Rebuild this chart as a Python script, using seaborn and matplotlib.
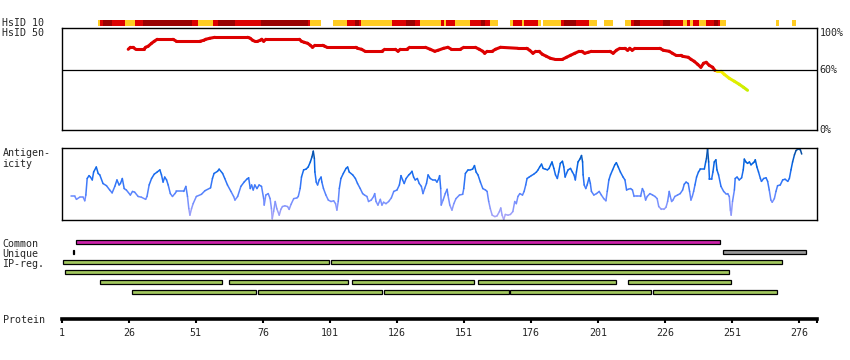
import numpy as np
import pandas as pd
import seaborn as sns
import matplotlib.pyplot as plt
from matplotlib.colors import LinearSegmentedColormap

# HsID 10 strip: residue ranges and identity class
strip_start = [14.5, 15.2, 16.4, 19.6, 24.5, 28.2, 31.2, 49.5, 51.7, 57.4, 59.2, 65.6, 75.3, 92.9, 93.5,
               102.2, 107.4, 110.3, 111.8, 112.5, 124.1, 129.3, 132.7, 134.6, 142.4, 143.5, 144.3, 147.6,
               153.2, 157.3, 158.8, 160.7, 168.1, 169.1, 172.6, 173.4, 178.6, 180.5, 187.2, 188.3, 192.8,
               197.6, 203.2, 211.1, 213.3, 214.4, 216.7, 225.3, 227.9, 232.7, 234.2, 235.3, 236.5, 238.7,
               241.3, 244.3, 245.8, 246.5, 267.4, 273.4]
strip_end = [15.2, 16.4, 19.6, 24.5, 28.2, 31.2, 49.5, 51.7, 57.4, 59.2, 65.6, 75.3, 92.9, 93.5, 97.6,
             107.4, 110.3, 111.8, 112.5, 124.1, 129.3, 132.7, 134.6, 142.4, 143.5, 144.3, 147.6, 153.2,
             157.3, 158.8, 160.7, 163.6, 169.1, 172.6, 173.4, 178.6, 179.6, 187.2, 188.3, 192.8, 197.6,
             200.6, 206.6, 213.3, 214.4, 216.7, 225.3, 227.9, 232.7, 234.2, 235.3, 236.5, 238.7, 241.3,
             244.3, 245.8, 246.5, 248.8, 268.5, 274.9]
strip_level = ['low', 'mid', 'high', 'mid', 'low', 'mid', 'high', 'mid', 'low', 'mid', 'high', 'mid', 'high', 'mid', 'low',
               'low', 'mid', 'high', 'mid', 'low', 'mid', 'high', 'mid', 'low', 'mid', 'low', 'mid', 'low',
               'mid', 'high', 'mid', 'low', 'low', 'mid', 'low', 'mid', 'low', 'low', 'mid', 'high', 'mid',
               'low', 'low', 'low', 'mid', 'high', 'mid', 'high', 'mid', 'low', 'mid', 'low', 'mid', 'low',
               'mid', 'high', 'mid', 'low', 'low', 'low']

# HsID 50 identity (%)
hsid_res = [25.8, 26.6, 27.6, 28.6, 31.6, 32.3, 33.2, 34.5, 35.5, 36.6, 41.3, 42.5, 43.8, 52.5, 54.0, 54.7,
            56.2, 58.1, 62.8, 70.3, 71.3, 72.2, 73.0, 74.0, 75.0, 75.6, 76.3, 77.1, 89.6, 90.4, 91.4, 92.7,
            93.7, 94.5, 95.4, 98.3, 99.1, 99.9, 110.7, 111.3, 112.8, 114.1, 120.4, 121.4, 125.4, 126.4,
            127.2, 129.7, 130.7, 136.6, 138.4, 140.1, 141.3, 143.4, 145.0, 146.3, 149.6, 150.9, 155.2,
            156.7, 158.0, 158.7, 159.6, 161.5, 162.7, 164.6, 171.1, 174.3, 175.5, 176.7, 177.7, 179.0,
            180.2, 181.7, 183.2, 184.8, 187.7, 189.2, 190.7, 192.3, 193.9, 194.8, 196.0, 197.3, 198.5,
            205.4, 206.6, 207.8, 209.1, 211.0, 212.0, 212.8, 213.7, 214.7, 224.0, 225.3, 227.5, 228.7,
            230.0, 231.9, 232.5, 234.6, 235.6, 236.8, 238.1, 239.3, 240.3, 241.3, 242.4, 243.7, 244.5,
            245.5, 246.8, 248.0, 249.9, 251.8, 253.6, 255.2, 256.7]
hsid_pct = [81, 83, 83, 81, 81, 83, 84, 87, 89, 91, 91, 91, 89, 89, 90, 91,
            92, 93, 93, 93, 92, 90, 89, 89, 90, 91, 89, 91, 91, 89, 88, 87,
            85, 83, 85, 85, 84, 83, 83, 82, 81, 79, 79, 81, 81, 79,
            81, 81, 83, 83, 81, 79, 80, 82, 83, 81, 81, 83, 83,
            81, 79, 77, 79, 79, 81, 83, 82, 82, 80, 77, 79, 79,
            76, 74, 72, 71, 71, 73, 75, 77, 79, 79, 77, 78, 79,
            79, 77, 80, 82, 82, 80, 82, 80, 82, 82, 80, 79, 77,
            75, 75, 74, 73, 71, 69, 66, 63, 67, 68, 65, 63, 60,
            59, 59, 56, 52, 49, 46, 43, 40]

# Antigenicity (relative score, 0 = bottom of panel, 100 = top)
antig_res = [4.5, 5.9, 6.5, 7.7, 9.0, 9.6, 10.0, 10.5, 11.2, 11.7, 12.4, 12.9, 13.9, 14.6, 15.2, 16.4,
             17.7, 18.9, 19.8, 20.8, 21.6, 22.4, 22.9, 23.6, 24.3, 25.1, 26.6, 27.4, 28.2, 29.5, 30.7,
             32.3, 32.8, 33.6, 34.5, 35.5, 36.6, 37.6, 38.2, 38.8, 39.4, 40.1, 40.7, 41.5, 42.3, 43.2,
             43.8, 46.5, 47.3, 47.9, 48.4, 48.8, 49.4, 50.0, 51.2, 53.1, 54.4, 56.5,
             57.2, 57.8, 59.1, 59.7, 61.0, 61.8, 62.8, 64.1, 65.1, 65.6, 66.6, 67.8, 69.0, 70.0, 70.7,
             71.3, 71.8, 72.4, 73.0, 73.8, 74.6, 75.5, 76.3, 76.5, 77.1, 78.0, 78.7, 79.2, 79.5, 80.0,
             80.6, 81.2, 82.1, 82.7, 83.3, 84.2, 85.2, 85.8, 86.5, 87.5, 88.7, 89.2, 89.9, 90.4, 91.2,
             92.1, 92.9, 93.7, 94.3, 94.8, 95.2, 95.4, 95.9, 96.4, 97.0, 97.7, 98.0, 98.6, 99.5, 100.4,
             101.4, 102.4, 103.1, 103.6, 104.1, 104.5, 105.1, 106.0, 107.0, 107.6, 108.2, 109.5, 110.5,
             111.3, 112.3,
             113.2, 113.9, 114.8, 115.4, 116.4, 117.3, 117.7, 118.2, 118.9, 119.8, 120.4, 121.0, 121.9,
             122.9, 123.9, 124.8, 126.0, 126.9, 127.5, 128.1, 128.7, 129.4, 130.4, 131.0, 131.6, 132.2,
             132.8, 133.6, 134.3, 135.1, 135.7, 136.3, 137.0, 137.6, 138.4, 139.3, 140.3, 140.9, 141.6,
             141.9, 142.3, 142.5, 143.2, 144.0, 144.7, 145.0, 145.7, 146.5, 147.2, 148.0, 149.3, 150.5,
             150.9, 151.5, 152.5, 153.4, 154.2, 154.9, 155.5, 156.2, 157.1, 158.0, 159.0, 159.6, 160.2,
             160.8, 161.5, 162.5, 163.3, 164.2, 164.7, 165.2, 165.8, 166.4, 167.4, 168.3, 169.2, 169.9,
             170.5, 171.1, 171.8, 172.8, 173.4, 174.0, 174.5, 175.3, 176.1, 177.0, 178.0, 178.6, 179.2,
             179.9, 180.5, 181.3, 182.1, 182.7, 183.3, 183.8, 184.5, 185.1, 185.8, 186.3, 186.9, 187.7,
             188.2, 188.7, 189.2, 189.8, 190.7, 191.4, 192.0, 192.5, 192.9, 193.5, 194.2, 194.8, 195.2,
             195.4, 195.8, 196.4, 196.9, 197.6, 198.1, 198.5, 199.4, 200.4, 201.4, 202.2, 203.1, 203.9,
             204.4, 205.0, 205.6, 206.4, 207.2, 207.8, 208.5, 209.3, 210.3, 211.0, 211.6, 212.2, 213.1,
             213.8, 214.4, 215.6, 216.8, 217.5, 218.0, 218.7, 219.3, 220.3, 221.3, 222.2, 223.0, 223.6,
             224.6, 225.5,
             226.3, 226.9, 227.5, 227.9, 228.4, 228.9, 229.6, 230.6, 231.6, 232.5, 233.1, 233.8, 234.6,
             235.1, 235.6, 236.1, 236.6, 237.1, 237.7, 238.4, 239.1, 240.6, 241.1, 241.4, 241.8, 242.2,
             242.5, 243.3, 243.8, 244.3, 244.9, 245.3, 245.9, 246.8, 247.8, 248.6, 249.3, 249.9, 250.3,
             250.6, 251.1, 251.8, 252.1, 252.8, 253.6, 254.5, 255.1, 255.5, 256.1, 256.7, 257.4, 258.0,
             258.6, 259.2, 259.6, 260.2, 260.8, 261.5, 261.9, 262.7, 263.6, 264.2, 264.8, 265.4, 265.9,
             266.7, 267.3, 267.9, 268.9, 269.8, 270.7, 271.7, 272.3, 272.9, 273.5, 274.2, 274.8, 275.6,
             276.4, 276.9]
antig_val = [33, 33, 29, 32, 32, 27, 35, 58, 62, 60, 56, 67, 74, 65, 63, 51,
             48, 42, 38, 47, 56, 49, 51, 58, 44, 42, 35, 40, 39, 33, 32,
             29, 33, 49, 58, 64, 67, 70, 63, 53, 60, 56, 49, 37, 33, 37,
             40, 40, 47, 33, 16, 7, 16, 23, 33, 36, 41, 45,
             58, 65, 68, 71, 65, 58, 49, 40, 33, 28, 33, 47, 53, 57, 59,
             44, 49, 42, 49, 44, 49, 47, 30, 21, 35, 37, 30, 16, 2, 12,
             26, 16, 7, 15, 19, 20, 19, 15, 22, 30, 31, 33, 44, 60, 70,
             71, 74, 81, 88, 96, 86, 67, 53, 49, 56, 60, 53, 44, 35, 28,
             26, 27, 23, 14, 26, 44, 58, 65, 72, 74, 67, 63, 58,
             51, 44,
             37, 35, 33, 26, 28, 33, 37, 26, 21, 29, 21, 25, 23,
             26, 31, 40, 42, 49, 62, 56, 51, 58, 63, 65, 68, 60,
             56, 58, 51, 47, 37, 44, 51, 63, 58, 56, 56, 53, 58,
             62, 44, 21, 28, 37, 43, 35, 21, 14, 23, 30, 35, 36,
             44, 65, 70, 70, 71, 76, 67, 63, 53, 44, 42, 40, 26,
             16, 7, 5, 6, 12, 17, 7, 1, 8, 7, 8, 12, 26,
             23, 33, 37, 35, 40, 49, 58, 60, 62, 64, 67, 70, 74,
             78, 72, 71, 70, 72, 77, 81, 72, 63, 58, 67, 79, 82,
             74, 60, 65, 70, 72, 67, 63, 56, 67, 81, 85, 90, 81,
             63, 49, 44, 49, 59, 51, 40, 35, 37, 40, 35, 30, 27,
             40, 56, 63, 70, 77, 80, 74, 67, 60, 56, 42, 43, 44,
             42, 33, 33, 33, 44, 40, 28, 33, 37, 35, 33, 30, 19,
             15, 15,
             18, 26, 40, 33, 26, 28, 33, 35, 37, 42, 50, 53, 51,
             40, 28, 33, 40, 49, 60, 67, 71, 71, 81, 86, 99, 81,
             57, 57, 67, 81, 84, 70, 63, 47, 40, 37, 37, 33, 14,
             7, 26, 42, 58, 60, 56, 59, 70, 85, 81, 79, 81, 77,
             79, 81, 84, 74, 67, 58, 54, 58, 59, 54, 42, 28, 25,
             30, 40, 48, 49, 56, 57, 54, 58, 70, 81, 91, 97, 99,
             98, 92]

# Region bars (residue ranges)
common_start = [6.5]
common_end = [246.4]
unique_start = [5.2, 247.4]
unique_end = [5.7, 278.5]
unique_color = ['black', '#999999']
ip_row = [2, 2, 3, 4, 4, 4, 4, 4, 5, 5, 5, 5, 5]
ip_start = [1.5, 101.5, 2.2, 15.3, 63.4, 109.3, 156.3, 212.3, 27.2, 74.3, 121.3, 168.3, 221.3]
ip_end = [100.5, 269.5, 249.7, 60.6, 107.6, 154.6, 207.6, 250.5, 73.6, 120.6, 167.7, 220.6, 267.7]

tick_pos = [1, 26, 51, 76, 101, 126, 151, 176, 201, 226, 251, 276]
protein_end = 282.6

level_colors = {'high': '#990000', 'mid': '#dd0000', 'low': '#ffcc22'}


def segment_frame(x, y):
    # one small two-point line per step so every piece gets its own colour
    rows = []
    for i in range(len(x) - 1):
        lvl = (y[i] + y[i + 1]) / 2
        rows.append((i, x[i], y[i], lvl))
        rows.append((i, x[i + 1], y[i + 1], lvl))
    return pd.DataFrame(rows, columns=['seg', 'res', 'val', 'lvl'])


sns.set_style('white')
plt.rcParams['font.family'] = ['DejaVu Sans Mono']
plt.rcParams['font.size'] = 7.2

W, H = 850, 360
fig = plt.figure(figsize=(8.5, 3.6), dpi=100)


def box(top, bottom, left=61.7, right=817):
    return [left / W, 1 - bottom / H, (right - left) / W, (bottom - top) / H]


ax_strip = fig.add_axes(box(19.8, 25.6))
ax_id = fig.add_axes(box(28.3, 130.3))
ax_ag = fig.add_axes(box(148.3, 220.2))
ax_bar = fig.add_axes(box(236.3, 319.3))

# HsID 10 strip
ax_strip.barh(y=0.5, width=np.subtract(strip_end, strip_start), left=strip_start, height=1,
              color=[level_colors[l] for l in strip_level], linewidth=0)
ax_strip.set_xlim(1, protein_end)
ax_strip.set_ylim(0, 1)
ax_strip.axis('off')

# HsID 50 line
id_cmap = LinearSegmentedColormap.from_list(
    'hsid', [(0, '#c4ee00'), (0.333, '#ffee00'), (0.334, '#dd0000'), (1, '#dd0000')])
sns.lineplot(data=segment_frame(hsid_res, hsid_pct), x='res', y='val', hue='lvl', units='seg',
             estimator=None, palette=id_cmap, hue_norm=(40, 100), legend=False, ax=ax_id,
             linewidth=2.2, solid_capstyle='round')
ax_id.axhline(60, color='black', linewidth=0.9)
ax_id.set_xlim(1, protein_end)
ax_id.set_ylim(0, 102)

# Antigenicity line
ag_cmap = LinearSegmentedColormap.from_list(
    'antig', [(0, '#b4aaf6'), (0.3, '#6e8cff'), (0.55, '#2a72f6'), (0.8, '#0062e0'), (1, '#0a4a92')])
sns.lineplot(data=segment_frame(antig_res, antig_val), x='res', y='val', hue='lvl', units='seg',
             estimator=None, palette=ag_cmap, hue_norm=(0, 100), legend=False, ax=ax_ag,
             linewidth=1.1, solid_capstyle='round')
ax_ag.set_xlim(1, protein_end)
ax_ag.set_ylim(0, 100)

for ax in (ax_id, ax_ag):
    ax.set_xticks([])
    ax.set_yticks([])
    ax.set_xlabel('')
    ax.set_ylabel('')
    for sp in ax.spines.values():
        sp.set_visible(True)
        sp.set_color('black')
        sp.set_linewidth(1.0)

# Region bars
bar_kw = dict(height=0.42, edgecolor='black', linewidth=0.9)
ax_bar.barh(y=[0] * len(common_start), width=np.subtract(common_end, common_start),
            left=common_start, color='#cc22aa', **bar_kw)
ax_bar.barh(y=[1] * len(unique_start), width=np.subtract(unique_end, unique_start),
            left=unique_start, color=unique_color, **bar_kw)
ax_bar.barh(y=ip_row, width=np.subtract(ip_end, ip_start), left=ip_start, color='#a2c85e', **bar_kw)
ax_bar.set_xlim(1, protein_end)
ax_bar.set_ylim(7.7, -0.6)
ax_bar.set_yticks([])
ax_bar.set_xticks(tick_pos + [protein_end])
ax_bar.set_xticklabels([str(t) for t in tick_pos] + [''])
ax_bar.tick_params(axis='x', direction='out', length=3, width=1.5, pad=3.5, labelsize=7.2,
                   bottom=True, color='black')
for name, sp in ax_bar.spines.items():
    sp.set_visible(name == 'bottom')
ax_bar.spines['bottom'].set_linewidth(2.6)
ax_bar.spines['bottom'].set_color('black')

# Row labels on the left and percent labels on the right
left_labels = [('HsID 10', 26), ('HsID 50', 36), ('Antigen-', 156), ('icity', 166.7),
               ('Common', 246.7), ('Unique', 256.7), ('IP-reg.', 266.7), ('Protein', 322.7)]
for txt, base in left_labels:
    fig.text(2.5 / W, 1 - base / H, txt, ha='left', va='baseline', fontsize=7.2)
for txt, base in [('100%', 36), ('60%', 73.3), ('0%', 132.7)]:
    fig.text(819.5 / W, 1 - base / H, txt, ha='left', va='baseline', fontsize=7.2)

fig.savefig('out.png', dpi=100)
